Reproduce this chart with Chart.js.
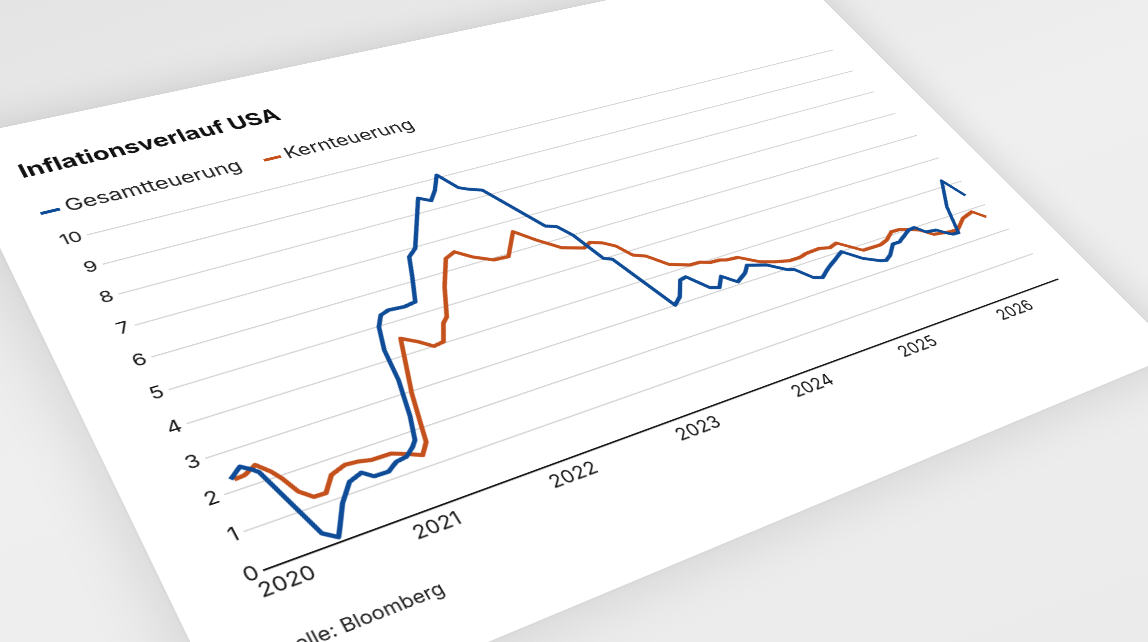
<!DOCTYPE html>
<html>
<head>
<meta charset="utf-8">
<script src="https://cdn.jsdelivr.net/npm/chart.js@4.4.1/dist/chart.umd.min.js"></script>
<style>
  html, body { margin: 0; width: 1148px; height: 642px; overflow: hidden; }
  body { background: linear-gradient(160deg, #e4e4e4 0%, #efefef 45%, #ebebeb 100%); font-family: Inter, "Noto Sans", sans-serif; }
  #card {
    position: absolute; left: 0; top: 0; width: 1292px; height: 884px;
    background: #fff; transform-origin: 0 0;
    box-shadow: 0 0 70px rgba(0,0,0,0.14), 0 0 6px rgba(0,0,0,0.05);
  }
  #title { position: absolute; left: 59px; top: 67px; font-size: 32px; line-height: 32px; font-weight: 700; color: #111; white-space: nowrap; }
  #legend { position: absolute; left: 59px; top: 142px; font-size: 28px; line-height: 28px; color: #222; white-space: nowrap; }
  #legend .item { display: inline-block; margin-right: 30px; }
  #legend .dash { display: inline-block; width: 23px; height: 5px; margin-right: 7px; vertical-align: middle; border-radius: 1px; }
  #source { position: absolute; left: 59px; top: 797px; font-size: 22px; line-height: 22px; color: #222; white-space: nowrap; }
  #plot { position: absolute; left: 0; top: 180px; }
</style>
</head>
<body>
<div id="card">
  <div id="title">Inflationsverlauf USA</div>
  <div id="legend"></div>
  <canvas id="plot" width="1292" height="600"></canvas>
  <div id="source">Quelle: Bloomberg</div>
</div>
<script>
// values (x = decimal year, y = percent)
const gesamtYears = [2019.99, 2020.08, 2020.14, 2020.17, 2020.33, 2020.41, 2020.45, 2020.54, 2020.65, 2020.75,
  2020.81, 2020.91, 2020.99, 2021.07, 2021.14, 2021.18, 2021.24, 2021.31, 2021.34, 2021.40,
  2021.46, 2021.53, 2021.65, 2021.74, 2021.83, 2021.90, 2021.98, 2022.09, 2022.24, 2022.32,
  2022.40, 2022.49, 2022.58, 2022.64, 2022.74, 2022.80, 2023.00, 2023.08, 2023.15, 2023.24,
  2023.30, 2023.49, 2023.57, 2023.67, 2023.73, 2023.84, 2023.91, 2023.99, 2024.08, 2024.19,
  2024.25, 2024.40, 2024.52, 2024.58, 2024.67, 2024.74, 2024.84, 2025.06, 2025.18, 2025.30,
  2025.35, 2025.42, 2025.52, 2025.59, 2025.75, 2025.82, 2025.88, 2025.98, 2026.04, 2026.08,
  2026.14, 2026.25, 2026.42, 2026.50];
const gesamtValues = [2.30, 2.53, 2.36, 2.25, 0.34, 0.12, 0.34, 0.85, 1.29, 1.41,
  1.22, 1.21, 1.38, 1.42, 1.60, 1.75, 2.37, 3.40, 4.31, 4.99,
  5.30, 5.38, 5.34, 5.39, 6.13, 6.75, 6.96, 7.61, 8.50, 8.31,
  8.62, 9.10, 8.50, 8.37, 8.21, 7.82, 6.52, 6.40, 5.99, 5.02,
  4.91, 3.01, 3.20, 3.68, 3.72, 3.19, 3.10, 3.41, 3.09, 3.29,
  3.49, 3.31, 2.99, 2.91, 2.50, 2.41, 2.62, 2.99, 2.58, 2.34,
  2.29, 2.41, 2.71, 2.71, 2.98, 3.00, 2.75, 2.70, 2.51, 2.41,
  2.40, 3.32, 4.21, 3.49];

const kernYears = [2020.01, 2020.08, 2020.17, 2020.24, 2020.28, 2020.33, 2020.40, 2020.48, 2020.57, 2020.68,
  2020.77, 2020.85, 2020.99, 2021.08, 2021.17, 2021.24, 2021.27, 2021.34, 2021.43, 2021.49,
  2021.59, 2021.67, 2021.75, 2021.83, 2021.88, 2022.00, 2022.14, 2022.23, 2022.33, 2022.46,
  2022.58, 2022.74, 2022.86, 2023.00, 2023.16, 2023.23, 2023.32, 2023.40, 2023.47, 2023.56,
  2023.68, 2023.83, 2023.92, 2023.99, 2024.08, 2024.13, 2024.23, 2024.37, 2024.48, 2024.60,
  2024.70, 2024.78, 2024.91, 2025.00, 2025.08, 2025.24, 2025.41, 2025.50, 2025.60, 2025.68,
  2025.74, 2025.84, 2025.92, 2026.08, 2026.16, 2026.29, 2026.42, 2026.50];
const kernValues = [2.27, 2.29, 2.45, 2.16, 1.91, 1.48, 1.23, 1.22, 1.60, 1.73,
  1.70, 1.63, 1.62, 1.48, 1.32, 1.61, 2.02, 2.95, 3.87, 4.49,
  4.25, 4.00, 4.04, 4.55, 4.70, 5.57, 6.39, 6.52, 6.21, 5.94,
  5.91, 6.63, 6.17, 5.71, 5.50, 5.62, 5.49, 5.27, 4.85, 4.70,
  4.24, 4.03, 4.02, 3.92, 3.90, 3.84, 3.81, 3.47, 3.33, 3.22,
  3.22, 3.28, 3.30, 3.22, 3.30, 2.82, 2.81, 2.89, 3.10, 3.09,
  3.02, 2.87, 2.60, 2.51, 2.50, 2.79, 2.91, 2.60];

const yearTicks = [2020, 2021, 2022, 2023, 2024, 2025, 2026];
const valueTicks = [0, 1, 2, 3, 4, 5, 6, 7, 8, 9, 10];
const seriesNames = ['Gesamtteuerung', 'Kernteuerung'];
const seriesColors = ['#0f4c98', '#c4501b'];

// where the plot corners sit on screen (tilted card)
const plotCorners = { tl: [87, 235], tr: [833, 50], br: [1058, 279], bl: [264, 570] };

function pts(xs, ys) {
  return xs.map((x, i) => ({ x: x, y: ys[i] }));
}

const legend = document.getElementById('legend');
seriesNames.forEach((name, i) => {
  const item = document.createElement('span');
  item.className = 'item';
  item.innerHTML = '<span class="dash" style="background:' + seriesColors[i] + '"></span>' + name;
  legend.appendChild(item);
});

Chart.defaults.font.family = 'Inter, "Noto Sans", sans-serif';
Chart.defaults.color = '#1a1a1a';

const chart = new Chart(document.getElementById('plot'), {
  type: 'line',
  data: {
    datasets: [
      { label: seriesNames[0], data: pts(gesamtYears, gesamtValues), borderColor: seriesColors[0], borderWidth: 5.5, pointRadius: 0, tension: 0, borderJoinStyle: 'round' },
      { label: seriesNames[1], data: pts(kernYears, kernValues), borderColor: seriesColors[1], borderWidth: 5.5, pointRadius: 0, tension: 0, borderJoinStyle: 'round' }
    ]
  },
  options: {
    responsive: false,
    animation: false,
    devicePixelRatio: 2,
    layout: { padding: { left: 0, right: 64, top: 30, bottom: 13 } },
    plugins: { legend: { display: false }, tooltip: { enabled: false } },
    scales: {
      x: {
        type: 'linear',
        min: 2019.91,
        max: 2026.59,
        afterBuildTicks: s => { s.ticks = yearTicks.map(v => ({ value: v })); },
        afterFit: s => { s.height = 50; },
        grid: { display: false, drawTicks: false },
        border: { display: true, color: '#1a1a1a', width: 2.2 },
        ticks: { autoSkip: false, maxRotation: 0, padding: 8, font: { size: 24 }, color: '#1a1a1a', callback: v => String(v) }
      },
      y: {
        min: 0,
        max: 10,
        afterBuildTicks: s => { s.ticks = valueTicks.map(v => ({ value: v })); },
        afterFit: s => { s.width = 96; },
        grid: { drawTicks: false, lineWidth: 1.6, color: c => c.tick.value === 0 ? 'rgba(0,0,0,0)' : '#cfcfcf' },
        border: { display: false },
        ticks: { padding: 6, font: { size: 24 }, color: '#1a1a1a' }
      }
    }
  }
});

// projective transform: flat plot corners -> screen corners
function solve(A, b) {
  const n = b.length;
  for (let i = 0; i < n; i++) {
    let p = i;
    for (let r = i + 1; r < n; r++) if (Math.abs(A[r][i]) > Math.abs(A[p][i])) p = r;
    [A[i], A[p]] = [A[p], A[i]];
    [b[i], b[p]] = [b[p], b[i]];
    for (let r = i + 1; r < n; r++) {
      const f = A[r][i] / A[i][i];
      for (let c = i; c < n; c++) A[r][c] -= f * A[i][c];
      b[r] -= f * b[i];
    }
  }
  const x = new Array(n).fill(0);
  for (let i = n - 1; i >= 0; i--) {
    let s = b[i];
    for (let c = i + 1; c < n; c++) s -= A[i][c] * x[c];
    x[i] = s / A[i][i];
  }
  return x;
}

const area = chart.chartArea;
const offY = 180;
const src = [[area.left, area.top + offY], [area.right, area.top + offY], [area.right, area.bottom + offY], [area.left, area.bottom + offY]];
const dst = [plotCorners.tl, plotCorners.tr, plotCorners.br, plotCorners.bl];
const A = [], B = [];
for (let i = 0; i < 4; i++) {
  const [x, y] = src[i], [u, v] = dst[i];
  A.push([x, y, 1, 0, 0, 0, -u * x, -u * y]); B.push(u);
  A.push([0, 0, 0, x, y, 1, -v * x, -v * y]); B.push(v);
}
const h = solve(A, B);
document.getElementById('card').style.transform =
  'matrix3d(' + [h[0], h[3], 0, h[6], h[1], h[4], 0, h[7], 0, 0, 1, 0, h[2], h[5], 0, 1].join(',') + ')';
</script>
</body>
</html>
